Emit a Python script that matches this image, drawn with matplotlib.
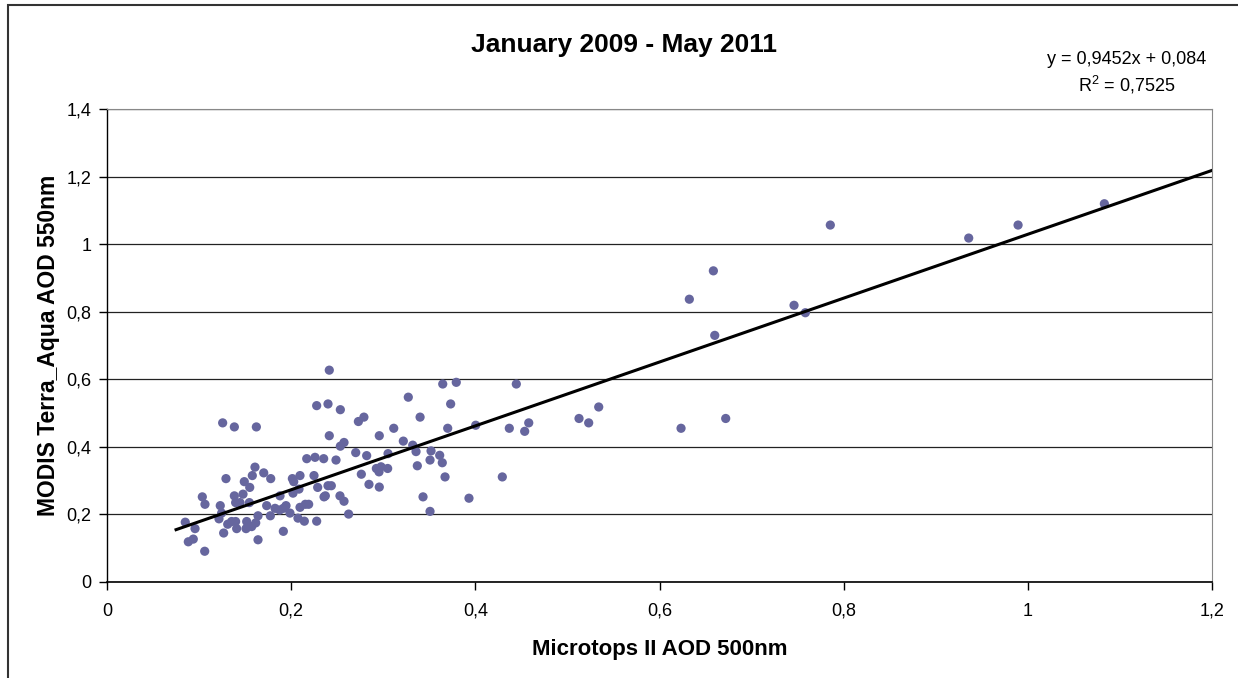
import matplotlib.pyplot as plt
import numpy as np
from matplotlib.patches import Rectangle
from matplotlib.ticker import FuncFormatter

plt.rcParams['font.family'] = ['Liberation Sans', 'DejaVu Sans']

# Microtops II AOD 500nm vs MODIS Terra/Aqua AOD 550nm
microtops = [
    0.2414, 0.2277, 0.2400, 0.2534, 0.1256, 0.1383, 0.1622, 0.2730, 0.2790, 0.2414,
    0.2534, 0.2574, 0.2169, 0.2259, 0.2353, 0.2487, 0.2701, 0.2820, 0.1607, 0.1702,
    0.1778, 0.1292, 0.1578, 0.1491, 0.1550, 0.2013, 0.2096, 0.2028, 0.2248, 0.2762,
    0.2845, 0.2400, 0.2436, 0.2288, 0.2085, 0.2020, 0.1879, 0.1477, 0.1383, 0.1035,
    0.1064, 0.1230, 0.1397, 0.1444, 0.1546, 0.1734, 0.1825, 0.1944, 0.1875, 0.1915,
    0.2096, 0.2154, 0.2190, 0.2357, 0.2371, 0.2530, 0.2574, 0.2624, 0.1245, 0.1640,
    0.1774, 0.1216, 0.1987, 0.2074, 0.2143, 0.2277, 0.0850, 0.0956, 0.1311, 0.1353,
    0.1397, 0.1408, 0.1517, 0.1510, 0.1571, 0.1615, 0.1267, 0.1915, 0.0883, 0.0937,
    0.1640, 0.1061,
    0.3272, 0.3646, 0.3793, 0.4445, 0.3732, 0.3400, 0.3114, 0.2957, 0.3218, 0.3700,
    0.4004, 0.4369, 0.4580, 0.4536, 0.3320, 0.3356, 0.3519, 0.3613, 0.3641, 0.3508,
    0.3370, 0.3052, 0.2925, 0.2976, 0.3048, 0.2954, 0.2957, 0.3671, 0.3432, 0.3508,
    0.3931, 0.4293,
    0.7855, 0.6585, 0.6324, 0.7461, 0.7584, 0.6600, 0.5340, 0.5126, 0.5231, 0.6234,
    0.6719, 0.9358, 0.9894, 1.0831,
]
modis = [
    0.627, 0.522, 0.527, 0.510, 0.471, 0.459, 0.459, 0.475, 0.488, 0.433,
    0.402, 0.413, 0.365, 0.369, 0.365, 0.361, 0.383, 0.374, 0.340, 0.323,
    0.306, 0.306, 0.315, 0.297, 0.280, 0.306, 0.315, 0.297, 0.315, 0.319,
    0.289, 0.285, 0.285, 0.280, 0.275, 0.263, 0.255, 0.260, 0.255, 0.252,
    0.230, 0.226, 0.235, 0.235, 0.235, 0.226, 0.218, 0.226, 0.213, 0.218,
    0.221, 0.230, 0.230, 0.252, 0.255, 0.255, 0.239, 0.201, 0.204, 0.196,
    0.196, 0.187, 0.204, 0.189, 0.180, 0.180, 0.177, 0.158, 0.171, 0.179,
    0.179, 0.158, 0.179, 0.158, 0.164, 0.175, 0.145, 0.150, 0.119, 0.127,
    0.125, 0.091,
    0.547, 0.586, 0.591, 0.586, 0.527, 0.488, 0.455, 0.433, 0.417, 0.455,
    0.464, 0.455, 0.471, 0.446, 0.405, 0.386, 0.388, 0.375, 0.353, 0.361,
    0.344, 0.380, 0.336, 0.341, 0.336, 0.326, 0.281, 0.311, 0.252, 0.209,
    0.248, 0.311,
    1.0565, 0.921, 0.837, 0.819, 0.797, 0.730, 0.518, 0.484, 0.471, 0.455,
    0.484, 1.018, 1.0565, 1.1196,
]

slope = 0.9452
intercept = 0.084
r_squared = 0.7525
trend_start = 0.075
trend_end = 1.2

fig = plt.figure(figsize=(12.38, 6.78), dpi=100)
ax = fig.add_axes([107 / 1238, 96 / 678, 1105 / 1238, 473 / 678])

# outer chart border (only top and left visible)
fig.patches.append(Rectangle((8 / 1238, -0.1), 1.2, 0.1 + 673 / 678, transform=fig.transFigure,
                             fill=False, edgecolor='#333333', linewidth=1.5))

ax.scatter(microtops, modis, s=44, color='#66669E', edgecolors='none', zorder=3)

tx = np.array([trend_start, trend_end])
ax.plot(tx, slope * tx + intercept, color='black', linewidth=2.2, zorder=4)

ax.set_xlim(0, 1.2)
ax.set_ylim(0, 1.4)
ax.set_xticks(np.arange(0, 1.21, 0.2))
ax.set_yticks(np.arange(0, 1.41, 0.2))

def comma(v, pos):
    s = ('%.1f' % v).rstrip('0').rstrip('.')
    return s.replace('.', ',')

ax.xaxis.set_major_formatter(FuncFormatter(comma))
ax.yaxis.set_major_formatter(FuncFormatter(comma))

ax.grid(axis='y', color='#222222', linewidth=0.9)
ax.set_axisbelow(True)
ax.spines['top'].set_color('#888888')
ax.spines['right'].set_color('#888888')
ax.spines['left'].set_color('black')
ax.spines['bottom'].set_color('black')
ax.spines['left'].set_linewidth(1.0)
ax.spines['bottom'].set_linewidth(1.2)
ax.tick_params(axis='both', direction='out', length=6, width=1, labelsize=13, colors='black')
ax.tick_params(axis='x', pad=9)
ax.tick_params(axis='y', pad=5)

ax.set_xlabel('Microtops II AOD 500nm', fontsize=16, fontweight='bold', labelpad=14)
ax.set_ylabel('MODIS Terra_Aqua AOD 550nm', fontsize=16.5, fontweight='bold', labelpad=5)

fig.text(0.504, 1 - 45 / 678, 'January 2009 - May 2011', fontsize=19, fontweight='bold',
         ha='center', va='center')
fig.text(1127 / 1238, 1 - 60 / 678, 'y = 0,9452x + 0,084', fontsize=13, ha='center', va='center')
fig.text(1127 / 1238, 1 - 85 / 678, '$\\mathregular{R^2}$ = 0,7525', fontsize=13,
         ha='center', va='center')

fig.savefig('out.png', dpi=100)
